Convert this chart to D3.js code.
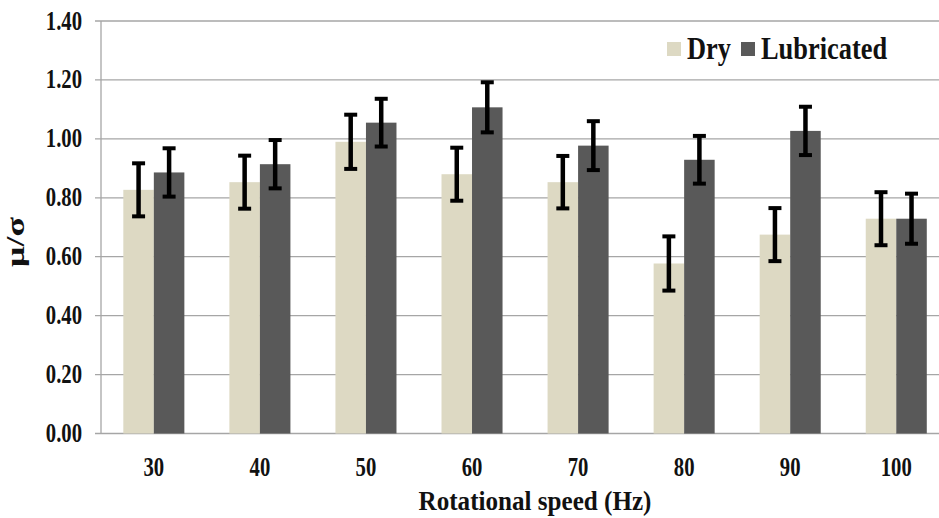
<!DOCTYPE html>
<html><head><meta charset="utf-8">
<script src="https://cdn.jsdelivr.net/npm/d3@7"></script>
<style>html,body{margin:0;padding:0;background:#fff;overflow:hidden}</style>
</head><body>
<script>
const categories = ["30","40","50","60","70","80","90","100"];
const series = ["Dry","Lubricated"];
const dryValues = [0.827, 0.853, 0.990, 0.880, 0.853, 0.577, 0.675, 0.729];
const dryErrors = [0.090, 0.090, 0.092, 0.090, 0.089, 0.092, 0.090, 0.090];
const lubValues = [0.886, 0.914, 1.055, 1.107, 0.977, 0.929, 1.027, 0.729];
const lubErrors = [0.082, 0.082, 0.081, 0.085, 0.083, 0.081, 0.082, 0.085];
const yTicks = [0, 0.2, 0.4, 0.6, 0.8, 1.0, 1.2, 1.4];
const colors = ["#DDD9C3", "#595959"];

const W = 939, H = 518;
const svg = d3.select("body").append("svg").attr("width", W).attr("height", H);
const FONT = "'Liberation Serif','Times New Roman',serif";

const x0 = d3.scaleBand().domain(categories).range([100.8, 949.3]).paddingInner(0.4245).paddingOuter(0.2123);
const x1 = d3.scaleBand().domain(series).range([0, x0.bandwidth()]);
const y = d3.scaleLinear().domain([0, 1.4]).range([433.5, 21]);

// gridlines
svg.append("g").selectAll("line").data(yTicks).join("line")
  .attr("x1", 95).attr("x2", W).attr("y1", d => y(d)).attr("y2", d => y(d))
  .attr("stroke", "#a6a6a6").attr("stroke-width", 1.3);
// y axis line
svg.append("line").attr("x1", 101).attr("x2", 101).attr("y1", y(1.4)).attr("y2", y(0))
  .attr("stroke", "#a6a6a6").attr("stroke-width", 1.3);

function txt(g, x, yy, s, size, sx, sy, anchor) {
  return g.append("text").attr("transform", `translate(${x},${yy}) scale(${sx},${sy})`)
    .attr("text-anchor", anchor).attr("font-family", FONT).attr("font-weight", "bold")
    .attr("font-size", size).attr("fill", "#111").text(s);
}
// y tick labels
const yl = svg.append("g");
yTicks.forEach(t => txt(yl, 82, y(t) + 8.5, d3.format(".2f")(t), 23, 0.9, 1.15, "end"));
// x tick labels
const xl = svg.append("g");
categories.forEach(c => txt(xl, x0(c) + x0.bandwidth() / 2, 476, c, 23, 0.9, 1.15, "middle"));

// bars
const data = categories.map((c, i) => ({c, vals: [
  {s: "Dry", v: dryValues[i], e: dryErrors[i], col: colors[0]},
  {s: "Lubricated", v: lubValues[i], e: lubErrors[i], col: colors[1]}]}));
const grp = svg.append("g").selectAll("g").data(data).join("g")
  .attr("transform", d => `translate(${x0(d.c)},0)`);
grp.selectAll("rect").data(d => d.vals).join("rect")
  .attr("x", d => x1(d.s)).attr("width", x1.bandwidth())
  .attr("y", d => y(d.v)).attr("height", d => y(0) - y(d.v))
  .attr("fill", d => d.col);
// error bars
const eb = grp.selectAll("g.eb").data(d => d.vals).join("g").attr("class", "eb");
eb.append("line").attr("x1", d => x1(d.s) + x1.bandwidth()/2).attr("x2", d => x1(d.s) + x1.bandwidth()/2)
  .attr("y1", d => y(d.v + d.e)).attr("y2", d => y(d.v - d.e)).attr("stroke", "#000").attr("stroke-width", 4.5);
[1, -1].forEach(sg => {
  eb.append("line").attr("x1", d => x1(d.s) + x1.bandwidth()/2 - 6.5).attr("x2", d => x1(d.s) + x1.bandwidth()/2 + 6.5)
    .attr("y1", d => y(d.v + sg*d.e)).attr("y2", d => y(d.v + sg*d.e)).attr("stroke", "#000").attr("stroke-width", 4);
});

// axis titles
txt(svg, 535, 510, "Rotational speed (Hz)", 27, 0.93, 1, "middle");
svg.append("text").attr("transform", "translate(24,242) rotate(-90)")
  .attr("text-anchor", "middle").attr("font-family", FONT).attr("font-weight", "bold")
  .attr("font-size", 26).attr("textLength", 50).attr("lengthAdjust", "spacingAndGlyphs")
  .attr("fill", "#111").text("μ/σ");

// legend
const lg = svg.append("g");
lg.append("rect").attr("x", 667).attr("y", 42).attr("width", 14).attr("height", 14).attr("fill", colors[0]);
txt(lg, 687, 59, series[0], 30, 0.88, 1.05, "start");
lg.append("rect").attr("x", 741).attr("y", 42).attr("width", 14).attr("height", 14).attr("fill", colors[1]);
txt(lg, 761, 59, series[1], 30, 0.88, 1.05, "start");
</script>
</body></html>
